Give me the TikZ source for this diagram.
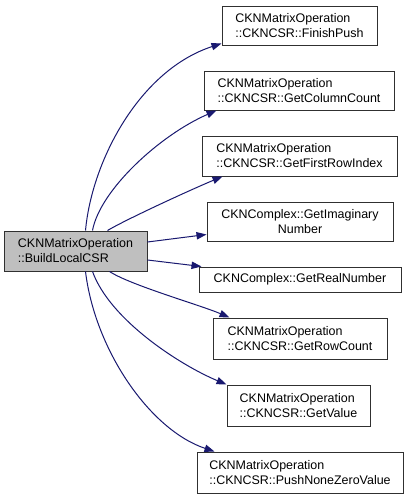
\documentclass[tikz,border=0pt]{standalone}
\usepackage{fontspec}
\setmainfont{Liberation Sans}
\usepackage{tikz}
\usetikzlibrary{arrows.meta, calc}
\definecolor{edgeblue}{HTML}{191970}
\definecolor{rootgray}{HTML}{BFBFBF}
\definecolor{boxline}{HTML}{303030}

\begin{document}
\begin{tikzpicture}[
  x=0.75pt, y=-0.75pt,
  box/.style={rectangle, draw=boxline, line width=0.75pt, fill=white,
              inner sep=0pt, align=left,
              font=\fontsize{9.35}{11.2}\selectfont},
  rootbox/.style={box, fill=rootgray},
  call/.style={-{Triangle[length=7.5pt, width=5.5pt]}, line width=0.75pt,
               color=edgeblue}
]
  \fill[white] (0,0) rectangle (411,496);
  \useasboundingbox (0,0) rectangle (411,496);

  \node[rootbox, minimum width=143*0.75pt, minimum height=40*0.75pt] (build) at (75.5,251)
    {CKNMatrixOperation\\::BuildLocalCSR};
  \node[box, minimum width=155*0.75pt, minimum height=39*0.75pt] (finish) at (299.5,25.5)
    {CKNMatrixOperation\\::CKNCSR::FinishPush};
  \node[box, minimum width=190*0.75pt, minimum height=39*0.75pt] (colcount) at (299,90.5)
    {CKNMatrixOperation\\::CKNCSR::GetColumnCount};
  \node[box, minimum width=195*0.75pt, minimum height=40*0.75pt] (firstrow) at (299.5,156)
    {CKNMatrixOperation\\::CKNCSR::GetFirstRowIndex};
  \node[box, align=center, minimum width=186*0.75pt, minimum height=39*0.75pt] (imag) at (300,221.5)
    {CKNComplex::GetImaginary\\Number};
  \node[box, minimum width=202*0.75pt, minimum height=25*0.75pt] (real) at (300,279.5)
    {CKNComplex::GetRealNumber};
  \node[box, minimum width=174*0.75pt, minimum height=41*0.75pt] (rowcount) at (300,338.5)
    {CKNMatrixOperation\\::CKNCSR::GetRowCount};
  \node[box, minimum width=143*0.75pt, minimum height=41*0.75pt] (getval) at (298.5,405.5)
    {CKNMatrixOperation\\::CKNCSR::GetValue};
  \node[box, minimum width=206*0.75pt, minimum height=41*0.75pt] (pushnz) at (300,472.5)
    {CKNMatrixOperation\\::CKNCSR::PushNoneZeroValue};

  % calls out of BuildLocalCSR
  \draw[call] ($(build.north)+(10,0)$) .. controls (92,160) and (140,70) .. ($(finish.south west)+(0,-2)$);
  \draw[call] ($(build.north)+(17,0)$) .. controls (100,190) and (160,135) .. ($(colcount.south west)+(13,0)$);
  \draw[call] ($(build.north)+(32,0)$) .. controls (125,220) and (190,190) .. ($(firstrow.south west)+(21,0)$);
  \draw[call] ($(build.east)+(0,-9)$) -- ($(imag.west)+(0,13)$);
  \draw[call] ($(build.east)+(0,9)$) -- ($(real.north west)+(3,0)$);
  \draw[call] ($(build.south)+(34,0)$) .. controls (130,285) and (200,305) .. ($(rowcount.north west)+(17,0)$);
  \draw[call] ($(build.south)+(17,0)$) .. controls (110,320) and (180,365) .. (getval.north west);
  \draw[call] ($(build.south)+(10,0)$) .. controls (95,350) and (150,430) .. ($(pushnz.north west)+(18,0)$);
\end{tikzpicture}
\end{document}
